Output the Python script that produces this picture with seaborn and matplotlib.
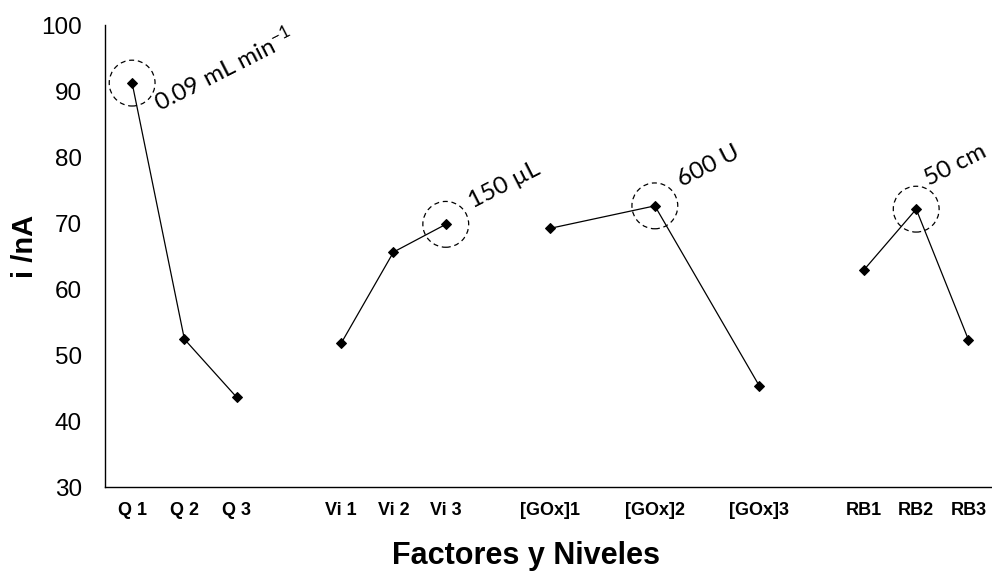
import matplotlib
matplotlib.use("Agg")
import matplotlib.pyplot as plt
import seaborn as sns
import pandas as pd

# ---- data ----
categories = ["Q 1", "Q 2", "Q 3", "",
              "Vi 1", "Vi 2", "Vi 3", "",
              "[GOx]1", "", "[GOx]2", "", "[GOx]3", "",
              "RB1", "RB2", "RB3"]
factor_names = ["Q", "Vi", "GOx", "RB"]
factor_levels = [["Q 1", "Q 2", "Q 3"],
                 ["Vi 1", "Vi 2", "Vi 3"],
                 ["[GOx]1", "[GOx]2", "[GOx]3"],
                 ["RB1", "RB2", "RB3"]]
q_values = [91.2, 52.4, 43.6]
vi_values = [51.8, 65.6, 69.8]
gox_values = [69.2, 72.6, 45.3]
rb_values = [62.9, 72.1, 52.3]
factor_values = [q_values, vi_values, gox_values, rb_values]
optimum_level = ["Q 1", "Vi 3", "[GOx]2", "RB2"]
optimum_text = ["0.09 mL min$^{-1}$", "150 µL", "600 U", "50 cm"]
y_ticks = [30, 40, 50, 60, 70, 80, 90, 100]

rows = []
for name, levels, vals in zip(factor_names, factor_levels, factor_values):
    for lev, v in zip(levels, vals):
        rows.append({"factor": name, "level": lev,
                     "pos": categories.index(lev), "i": v})
df = pd.DataFrame(rows)

# ---- style ----
sns.set_style("white")
plt.rcParams["font.family"] = ["Liberation Sans", "DejaVu Sans"]
plt.rcParams["mathtext.fontset"] = "custom"
plt.rcParams["mathtext.rm"] = "Lato"
plt.rcParams["mathtext.it"] = "Lato:italic"
for k in ["text.color", "axes.labelcolor", "xtick.color", "ytick.color"]:
    plt.rcParams[k] = "black"

fig = plt.figure(figsize=(9.92, 5.78), dpi=100)
ax = fig.add_axes([0.1058, 0.1574, 0.8942, 0.7993])

for name in factor_names:
    sub = df[df["factor"] == name]
    sns.lineplot(data=sub, x="pos", y="i", ax=ax, color="black",
                 marker="D", markersize=5.2, linewidth=0.9,
                 markeredgecolor="black", legend=False)

# dashed circles around optimum levels
opt = df[df["level"].isin(optimum_level)]
ax.scatter(opt["pos"], opt["i"], s=33 ** 2, facecolors="none",
           edgecolors="black", linestyles=(0, (4, 3)), linewidths=0.9,
           zorder=5)

offsets = [(20, -21), (19.5, 11.5), (19.5, 13.5), (9.5, 17)]
for lev, txt, off in zip(optimum_level, optimum_text, offsets):
    r = df[df["level"] == lev].iloc[0]
    ax.annotate(txt, xy=(r["pos"], r["i"]), xytext=off,
                textcoords="offset points", ha="left", va="baseline",
                rotation=27, rotation_mode="anchor", fontsize=17.5,
                family="Lato", color="black")

ax.set_xlim(-0.52, 16.45)
ax.set_ylim(30, 100)
ax.set_yticks(y_ticks)
ax.set_yticklabels([str(t) for t in y_ticks], fontsize=17.5)
ax.set_xticks(range(len(categories)))
ax.set_xticklabels(categories, fontsize=13, fontweight="bold")
ax.tick_params(axis="x", length=0, pad=11)
ax.tick_params(axis="y", length=6.5, width=1, direction="out",
               color="#404040", pad=10)

for side in ["top", "right"]:
    ax.spines[side].set_visible(False)
for side in ["left", "bottom"]:
    ax.spines[side].set_color("black")
    ax.spines[side].set_linewidth(1.0)

ax.set_xlabel("Factores y Niveles", fontsize=22, fontweight="bold")
ax.xaxis.set_label_coords(0.475, -0.117)
ax.set_ylabel("i /nA", fontsize=21, fontweight="bold", va="center")
ax.yaxis.set_label_coords(-0.09, 0.52)

fig.savefig("out.png", dpi=100)
